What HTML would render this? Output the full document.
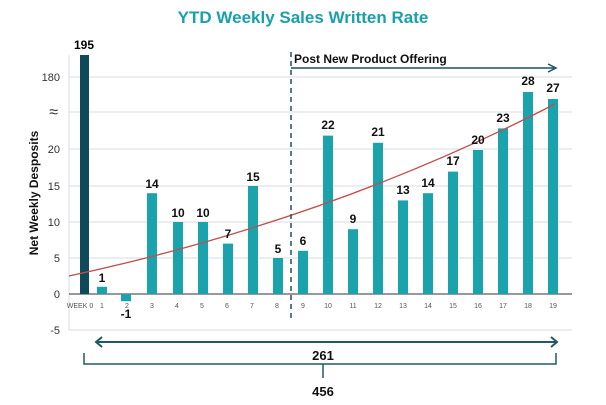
<!DOCTYPE html>
<html><head><style>body{margin:0;background:#fff}svg{display:block}text{font-family:"Liberation Sans",sans-serif}</style></head><body>
<svg width="606" height="405" viewBox="0 0 606 405" xmlns="http://www.w3.org/2000/svg">
<text x="303" y="23" text-anchor="middle" font-size="17" font-weight="bold" fill="#1aa0aa">YTD Weekly Sales Written Rate</text>
<g stroke="#d5dde6" stroke-width="1">
<line x1="69" y1="77" x2="572" y2="77"/><line x1="69" y1="112" x2="572" y2="112"/>
<line x1="69" y1="149" x2="572" y2="149"/><line x1="69" y1="186" x2="572" y2="186"/>
<line x1="69" y1="222" x2="572" y2="222"/><line x1="69" y1="258" x2="572" y2="258"/>
<line x1="69" y1="330" x2="572" y2="330"/><line x1="69" y1="55" x2="69" y2="330"/>
</g>
<line x1="69" y1="294" x2="572" y2="294" stroke="#333" stroke-width="1"/>
<g font-size="11" fill="#333" text-anchor="end">
<text x="60" y="81">180</text><text x="60" y="153">20</text><text x="60" y="190">15</text><text x="60" y="226">10</text><text x="60" y="262">5</text><text x="60" y="298">0</text><text x="60" y="334">-5</text>
</g>
<text x="58" y="117" font-size="16" text-anchor="end" fill="#333">≈</text>
<text transform="translate(38,193) rotate(-90)" text-anchor="middle" font-size="12" font-weight="bold" fill="#111">Net Weekly Desposits</text>
<rect x="80" y="55" width="9" height="239" fill="#0e4a5a"/>
<text x="84" y="49" text-anchor="middle" font-size="12" font-weight="bold">195</text>
<g fill="#1aa3ad">
<rect x="97" y="286.8" width="10" height="7.2"/>
<rect x="121" y="294" width="10" height="7.2"/>
<rect x="147" y="193.2" width="10" height="100.8"/>
<rect x="173" y="222" width="10" height="72"/>
<rect x="198" y="222" width="10" height="72"/>
<rect x="223" y="243.6" width="10" height="50.4"/>
<rect x="248" y="186" width="10" height="108"/>
<rect x="273" y="258" width="10" height="36"/>
<rect x="298" y="250.8" width="10" height="43.2"/>
<rect x="323" y="135.6" width="10" height="158.4"/>
<rect x="348" y="229.2" width="10" height="64.8"/>
<rect x="373" y="142.8" width="10" height="151.2"/>
<rect x="398" y="200.4" width="10" height="93.6"/>
<rect x="423" y="193.2" width="10" height="100.8"/>
<rect x="448" y="171.6" width="10" height="122.4"/>
<rect x="473" y="150" width="10" height="144"/>
<rect x="498" y="128.4" width="10" height="165.6"/>
<rect x="523" y="92" width="10" height="202"/>
<rect x="548" y="99" width="10" height="195"/>
</g>
<path d="M69 276 Q330 220 555 104" fill="none" stroke="#c0504d" stroke-width="1.3"/>
<g font-size="12" font-weight="bold" text-anchor="middle" fill="#111">
<text x="102" y="282">1</text><text x="126" y="318">-1</text><text x="152" y="188">14</text><text x="178" y="217">10</text><text x="203" y="217">10</text><text x="228" y="238">7</text><text x="253" y="181">15</text><text x="278" y="253">5</text><text x="303" y="245">6</text><text x="328" y="129">22</text><text x="353" y="223">9</text><text x="378" y="136">21</text><text x="403" y="194">13</text><text x="428" y="187">14</text><text x="453" y="165">17</text><text x="478" y="144">20</text><text x="503" y="122">23</text><text x="528" y="85">28</text><text x="553" y="92">27</text>
</g>
<g font-size="7" fill="#555" text-anchor="middle">
<text x="80" y="308">WEEK 0</text>
<text x="102" y="308">1</text><text x="127" y="308">2</text><text x="152" y="308">3</text><text x="177" y="308">4</text><text x="202" y="308">5</text><text x="227" y="308">6</text><text x="252" y="308">7</text><text x="277" y="308">8</text><text x="303" y="308">9</text><text x="328" y="308">10</text><text x="353" y="308">11</text><text x="378" y="308">12</text><text x="403" y="308">13</text><text x="428" y="308">14</text><text x="453" y="308">15</text><text x="478" y="308">16</text><text x="503" y="308">17</text><text x="528" y="308">18</text><text x="553" y="308">19</text>
</g>
<line x1="291" y1="52" x2="291" y2="318" stroke="#1e4e5e" stroke-width="1.5" stroke-dasharray="5,4"/>
<line x1="291" y1="68" x2="554" y2="68" stroke="#1e4e5e" stroke-width="1.5"/>
<path d="M548 64 L556 68 L548 72" fill="none" stroke="#1e4e5e" stroke-width="1.5"/>
<text x="294" y="63" font-size="12" font-weight="bold" fill="#111">Post New Product Offering</text>
<line x1="96" y1="342" x2="557" y2="342" stroke="#1e5a66" stroke-width="2"/>
<path d="M102 337 L96 342 L102 347 M551 337 L557 342 L551 347" fill="none" stroke="#1e5a66" stroke-width="2"/>
<text x="323" y="360" text-anchor="middle" font-size="13" font-weight="bold" fill="#111">261</text>
<path d="M84 353 L84 364 L323 364 L323 378 M323 364 L556 364 L556 353" fill="none" stroke="#1e5a66" stroke-width="1.5"/>
<text x="323" y="396" text-anchor="middle" font-size="13" font-weight="bold" fill="#111">456</text>
</svg>
</body></html>
